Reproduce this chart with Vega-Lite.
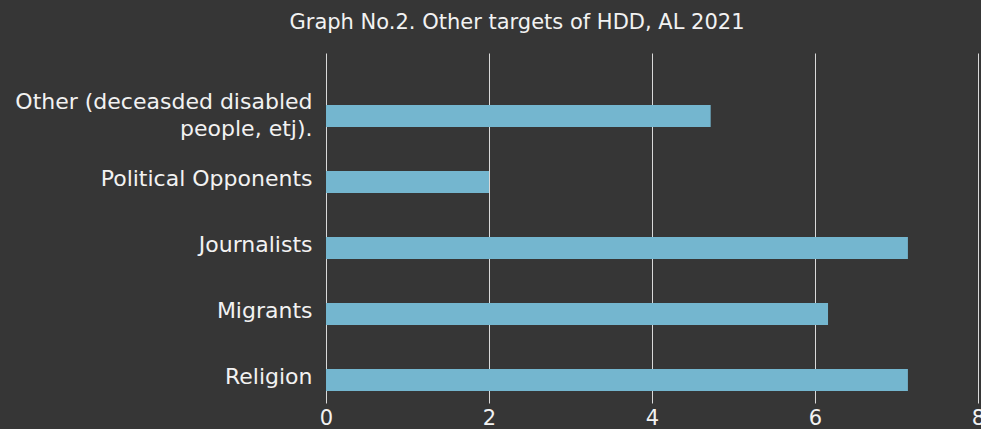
{
  "$schema": "https://vega.github.io/schema/vega-lite/v6.json",
  "width": 652,
  "height": 350,
  "autosize": "none",
  "padding": {"left": 326, "top": 53, "right": 3, "bottom": 26},
  "background": "#363636",
  "title": {
    "text": "Graph No.2. Other targets of HDD, AL 2021",
    "anchor": "middle",
    "frame": "group",
    "dx": -135,
    "offset": 20,
    "fontSize": 21,
    "font": "DejaVu Sans",
    "fontWeight": "normal",
    "color": "#f2f2f2"
  },
  "config": {
    "view": {"stroke": null},
    "font": "DejaVu Sans"
  },
  "data": {
    "values": [
      {"category": "Other (deceasded disabled people, etj).", "value": 4.72},
      {"category": "Political Opponents", "value": 2.0},
      {"category": "Journalists", "value": 7.14},
      {"category": "Migrants", "value": 6.16},
      {"category": "Religion", "value": 7.14}
    ]
  },
  "mark": {"type": "bar", "color": "#74b6cf"},
  "encoding": {
    "y": {
      "field": "category",
      "type": "nominal",
      "sort": null,
      "scale": {"paddingInner": 0.6667, "paddingOuter": 0.485, "align": 0.8125},
      "axis": {
        "title": null,
        "domain": false,
        "ticks": false,
        "labelPadding": 14,
        "labelFontSize": 22,
        "labelColor": "#f2f2f2",
        "labelFont": "DejaVu Sans",
        "labelLimit": 400,
        "labelLineHeight": 27,
        "labelOffset": {"expr": "datum.value == 'Other (deceasded disabled people, etj).' ? -14 : -3"},
        "labelExpr": "datum.label == 'Other (deceasded disabled people, etj).' ? ['Other (deceasded disabled', 'people, etj).'] : datum.label"
      }
    },
    "x": {
      "field": "value",
      "type": "quantitative",
      "scale": {"domain": [0, 8]},
      "axis": {
        "title": null,
        "values": [0, 2, 4, 6, 8],
        "domain": false,
        "ticks": false,
        "grid": true,
        "gridColor": "#d9d9d9",
        "gridWidth": 1,
        "labelPadding": 4,
        "labelFontSize": 21,
        "labelColor": "#f2f2f2",
        "labelFont": "DejaVu Sans",
        "labelFlush": false,
        "labelOverlap": false
      }
    }
  }
}
